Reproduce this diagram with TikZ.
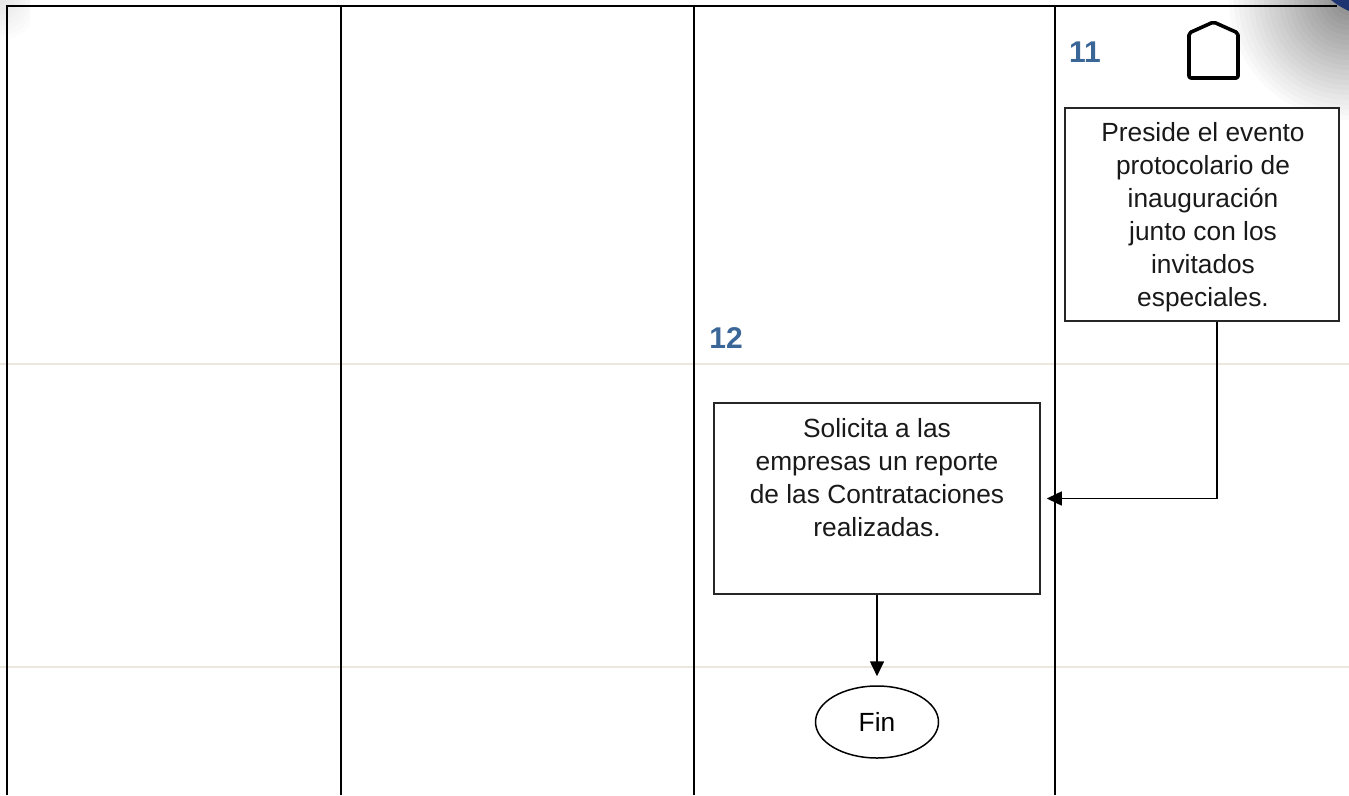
\documentclass[tikz,border=0pt]{standalone}
\usepackage{fontspec}
\setmainfont{Liberation Sans}
\usetikzlibrary{arrows.meta,shapes.geometric}
\definecolor{lane}{HTML}{000000}
\definecolor{sep}{HTML}{ECE7DC}
\definecolor{numblue}{HTML}{3A6698}
\definecolor{curl}{HTML}{1E3470}
\tikzset{
  lanestyle/.style={draw=lane, line width=1.8bp},
  seprow/.style={draw=sep, line width=1.4bp},
  procbox/.style={draw=black!85, line width=1.5bp, rectangle, inner sep=0pt},
  bodytext/.style={align=center, font=\fontsize{26.3bp}{33bp}\selectfont, text=black!90, inner sep=0pt},
  stepnum/.style={font=\bfseries\fontsize{30bp}{32bp}\selectfont, text=numblue, inner sep=0pt},
  flow/.style={draw=black, line width=1.6bp, -{Triangle[length=15bp,width=14bp]}},
  endnode/.style={draw=black, line width=1.5bp, ellipse, minimum width=123bp, minimum height=72bp, inner sep=0pt, font=\fontsize{26.3bp}{30bp}\selectfont}
}
\begin{document}
\begin{tikzpicture}[x=1bp,y=-1bp]
\useasboundingbox (0,0) rectangle (1349,795);
% corner shadings (stepped gradient)
\begin{scope}
  \clip (1200,0) rectangle (1349,130);
  \foreach \i in {1,...,24}{
    \pgfmathsetmacro\rr{125-5*\i}
    \pgfmathsetmacro\gg{1.9*\i}
    \fill[black!\gg] (1349,0) circle (\rr);
  }
\end{scope}
\begin{scope}
  \clip (0,0) rectangle (30,45);
  \foreach \i in {1,...,8}{
    \pgfmathsetmacro\rr{45-5*\i}
    \pgfmathsetmacro\gg{1.2*\i}
    \fill[black!\gg] (0,0) circle (\rr);
  }
\end{scope}
\fill[curl] (1331,0) -- (1349,0) -- (1349,11) .. controls (1342,8) and (1336,4) .. (1331,0);
% row separators
\draw[seprow] (0,364) -- (1349,364);
\draw[seprow] (0,667) -- (1349,667);
% lanes
\draw[lanestyle] (7,795) -- (7,6) -- (1337,6);
\draw[lanestyle] (341,6) -- (341,795);
\draw[lanestyle] (694,6) -- (694,795);
\draw[lanestyle] (1055,6) -- (1055,795);
% step numbers
\node[stepnum] (n11) at (1085,52) {11};
\node[stepnum] (n12) at (726,338) {12};
% off-page connector
\draw[line width=3.6bp, line join=round, rounded corners=2bp] (1189,78) -- (1189,33) -- (1213.5,22) -- (1238,33) -- (1238,78) -- cycle;
\coordinate (opc) at (1213.5,50);
% boxes
\node[procbox, fill=white, minimum width=274bp, minimum height=213bp] (b11) at (1202,214.5) {};
\node[bodytext] (t11) at (1203,217) {Preside el evento\\protocolario de\\inauguración\\junto con los\\invitados\\especiales.};
\node[procbox, minimum width=326bp, minimum height=191bp] (b12) at (877,498.5) {};
\node[bodytext] (t12) at (877,478) {Solicita a las\\empresas un reporte\\de las Contrataciones\\realizadas.};
% end
\node[endnode] (fin) at (877,722) {Fin};
% connectors
\draw[flow, shorten >=6bp] ([xshift=15bp]b11.south) |- (b12.east);
\draw[flow, shorten >=9bp] (b12.south) -- (fin.north);
\end{tikzpicture}
\end{document}
